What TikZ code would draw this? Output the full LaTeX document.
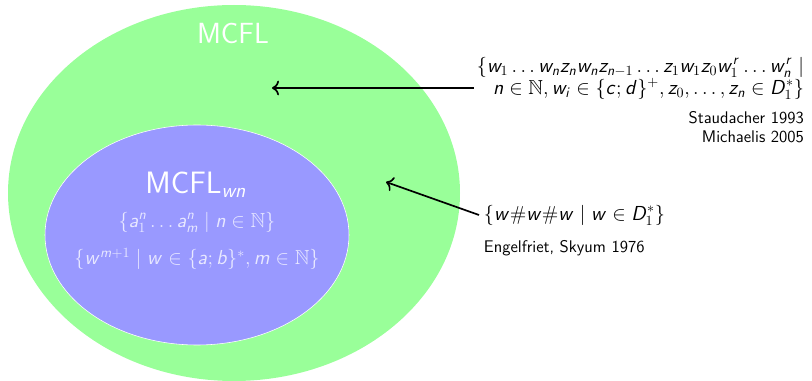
\documentclass[tikz,border=0pt]{standalone}
\usepackage{amssymb}
\usepackage{fontspec}
\renewcommand{\familydefault}{\sfdefault}
% sans serif maths, as on slides
\DeclareMathVersion{sans}
\SetSymbolFont{operators}{sans}{OT1}{cmss}{m}{n}
\SetSymbolFont{letters}{sans}{OT1}{cmss}{m}{sl}
\DeclareMathSymbol{,}{\mathpunct}{operators}{`,}
\DeclareMathSymbol{;}{\mathpunct}{operators}{`;}
\DeclareMathSymbol{.}{\mathord}{operators}{`.}
\DeclareMathSymbol{\ldotp}{\mathpunct}{operators}{`.}
\AtBeginDocument{\mathversion{sans}}
\usetikzlibrary{arrows.meta}

\colorlet{mcflgreen}{green!40}
\colorlet{wngreen}{blue!40}
\colorlet{settext}{blue!9}

\begin{document}
\begin{tikzpicture}[x=0.025cm, y=-0.025cm, every node/.style={font=\large},
    lang/.style={font=\fontsize{14.4}{12.5}\selectfont}]
  \useasboundingbox (0,0) rectangle (812,381);

  % the two classes
  \fill[mcflgreen] (234,193) ellipse [x radius=226, y radius=188];
  \filldraw[fill=wngreen, draw=white, thin] (197,235) ellipse [x radius=152, y radius=110];

  \node[white, font=\huge] (mcfl) at (233,33) {MCFL};
  \node[white, font=\fontsize{22}{26}\selectfont] (mcflwn) at (196,185) {MCFL$_{wn}$};
  \node[settext, lang] (anm) at (197,222) {$\{a_1^n \ldots a_m^n \mid n \in \mathbb{N}\}$};
  \node[settext, lang] (wpow) at (197,259) {$\{w^{m+1} \mid w \in \{a; b\}^*, m \in \mathbb{N}\}$};

  % examples outside
  \node[lang, align=right, anchor=north east, inner sep=2pt] (zset) at (807,54)
    {$\{w_1 \ldots w_n z_n w_n z_{n-1} \ldots z_1 w_1 z_0 w_1^r \ldots w_n^r \mid$\\
     $n \in \mathbb{N}, w_i \in \{c; d\}^+, z_0, \ldots, z_n \in D_1^*\}$};
  \node[align=right, anchor=north east, inner sep=2pt] (staud) at (807,108)
    {Staudacher 1993\\Michaelis 2005};
  \node[lang, anchor=west] (wset) at (479,215) {$\{w\#w\#w \mid w \in D_1^*\}$};
  \node[anchor=west] (engel) at (479,248) {Engelfriet, Skyum 1976};

  \coordinate (tipa) at (272,88);
  \coordinate (tipb) at (386,182);
  \draw[line width=1.2pt, -{To[length=5pt]}] (zset.west |- tipa) -- (tipa);
  \draw[line width=1.2pt, -{To[length=5pt]}] (wset.west) -- (tipb);
\end{tikzpicture}
\end{document}
